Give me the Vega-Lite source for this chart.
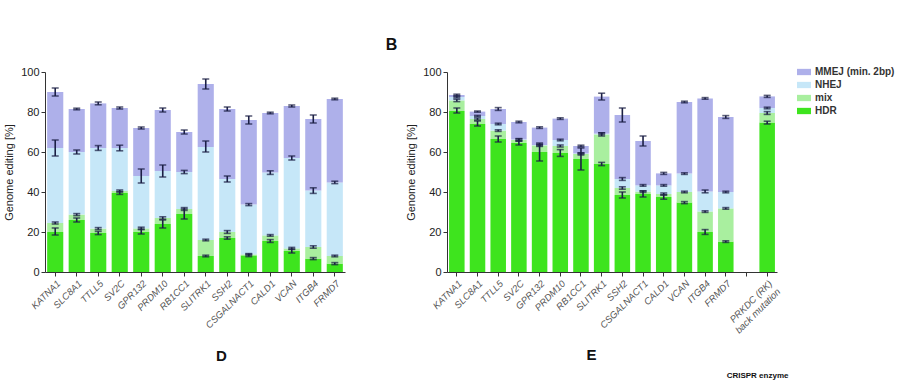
{
  "$schema": "https://vega.github.io/schema/vega-lite/v6.json",
  "background": "white",
  "padding": {"left": 3, "top": 37, "right": 0, "bottom": 0},
  "config": {
    "font": "Liberation Sans",
    "view": {"stroke": null},
    "axis": {"grid": false, "domainColor": "#333", "tickColor": "#333", "labelColor": "#222", "titleColor": "#222"},
    "axisY": {"values": [0,20,40,60,80,100], "labelOverlap": false, "labelFontSize": 11, "tickSize": 4, "titlePadding": 6, "titleFontSize": 11, "titleFontWeight": "normal"},
    "title": {"fontSize": 16, "fontWeight": "bold", "anchor": "start", "color": "#111", "offset": 13}
  },
  "title": {"text": "CRISPR enzyme", "orient": "bottom", "anchor": "start", "fontSize": 8, "fontWeight": "bold", "dx": 723, "offset": 8},
  "datasets": {
    "a": [
      {"g":"KATNA1","c":"HDR","b":0,"t":20,"lo":18.5,"hi":22},{"g":"KATNA1","c":"mix","b":20,"t":24.5,"lo":24,"hi":25},{"g":"KATNA1","c":"NHEJ","b":24.5,"t":62,"lo":58,"hi":66},{"g":"KATNA1","c":"MMEJ (min. 2bp)","b":62,"t":90,"lo":88,"hi":92},
      {"g":"SLC8A1","c":"HDR","b":0,"t":26,"lo":25,"hi":27},{"g":"SLC8A1","c":"mix","b":26,"t":28.7,"lo":28.2,"hi":29.2},{"g":"SLC8A1","c":"NHEJ","b":28.7,"t":60,"lo":59,"hi":61},{"g":"SLC8A1","c":"MMEJ (min. 2bp)","b":60,"t":81.5,"lo":81.1,"hi":81.9},
      {"g":"TTLL5","c":"HDR","b":0,"t":19.5,"lo":18.7,"hi":20.3},{"g":"TTLL5","c":"mix","b":19.5,"t":21.7,"lo":21.2,"hi":22.2},{"g":"TTLL5","c":"NHEJ","b":21.7,"t":62,"lo":60.8,"hi":63.2},{"g":"TTLL5","c":"MMEJ (min. 2bp)","b":62,"t":84.3,"lo":83.6,"hi":85},
      {"g":"SV2C","c":"HDR","b":0,"t":39.5,"lo":38.8,"hi":40.2},{"g":"SV2C","c":"mix","b":39.5,"t":40.5,"lo":40,"hi":41},{"g":"SV2C","c":"NHEJ","b":40.5,"t":62,"lo":60.6,"hi":63.4},{"g":"SV2C","c":"MMEJ (min. 2bp)","b":62,"t":82,"lo":81.5,"hi":82.5},
      {"g":"GPR132","c":"HDR","b":0,"t":20,"lo":19,"hi":21.5},{"g":"GPR132","c":"mix","b":20,"t":21.8,"lo":21.2,"hi":22.4},{"g":"GPR132","c":"NHEJ","b":21.8,"t":48,"lo":44.5,"hi":51.5},{"g":"GPR132","c":"MMEJ (min. 2bp)","b":48,"t":72,"lo":71.5,"hi":72.5},
      {"g":"PRDM10","c":"HDR","b":0,"t":24,"lo":22,"hi":26},{"g":"PRDM10","c":"mix","b":24,"t":27,"lo":26.4,"hi":27.6},{"g":"PRDM10","c":"NHEJ","b":27,"t":50.5,"lo":47.5,"hi":53.5},{"g":"PRDM10","c":"MMEJ (min. 2bp)","b":50.5,"t":81,"lo":80,"hi":82},
      {"g":"RB1CC1","c":"HDR","b":0,"t":29,"lo":26.5,"hi":31.5},{"g":"RB1CC1","c":"mix","b":29,"t":31.5,"lo":30.8,"hi":32.2},{"g":"RB1CC1","c":"NHEJ","b":31.5,"t":50,"lo":49.2,"hi":50.8},{"g":"RB1CC1","c":"MMEJ (min. 2bp)","b":50,"t":70,"lo":69,"hi":71},
      {"g":"SLITRK1","c":"HDR","b":0,"t":8,"lo":7.6,"hi":8.4},{"g":"SLITRK1","c":"mix","b":8,"t":16,"lo":15.6,"hi":16.4},{"g":"SLITRK1","c":"NHEJ","b":16,"t":62.5,"lo":60,"hi":65.5},{"g":"SLITRK1","c":"MMEJ (min. 2bp)","b":62.5,"t":94,"lo":91.5,"hi":96.5},
      {"g":"SSH2","c":"HDR","b":0,"t":17,"lo":16.4,"hi":17.6},{"g":"SSH2","c":"mix","b":17,"t":20,"lo":19.3,"hi":20.7},{"g":"SSH2","c":"NHEJ","b":20,"t":46.5,"lo":45,"hi":48},{"g":"SSH2","c":"MMEJ (min. 2bp)","b":46.5,"t":81.5,"lo":80.5,"hi":82.5},
      {"g":"CSGALNACT1","c":"HDR","b":0,"t":8.3,"lo":7.7,"hi":8.9},{"g":"CSGALNACT1","c":"mix","b":8.3,"t":8.8,"lo":8.4,"hi":9.2},{"g":"CSGALNACT1","c":"NHEJ","b":8.8,"t":33.7,"lo":33.2,"hi":34.2},{"g":"CSGALNACT1","c":"MMEJ (min. 2bp)","b":33.7,"t":76,"lo":74,"hi":78},
      {"g":"CALD1","c":"HDR","b":0,"t":15.5,"lo":14.8,"hi":16.2},{"g":"CALD1","c":"mix","b":15.5,"t":18.3,"lo":17.9,"hi":18.7},{"g":"CALD1","c":"NHEJ","b":18.3,"t":49.7,"lo":48.8,"hi":50.6},{"g":"CALD1","c":"MMEJ (min. 2bp)","b":49.7,"t":79.5,"lo":79.1,"hi":79.9},
      {"g":"VCAN","c":"HDR","b":0,"t":10.5,"lo":9.5,"hi":11.5},{"g":"VCAN","c":"mix","b":10.5,"t":11.8,"lo":11.3,"hi":12.3},{"g":"VCAN","c":"NHEJ","b":11.8,"t":57,"lo":56,"hi":58},{"g":"VCAN","c":"MMEJ (min. 2bp)","b":57,"t":83,"lo":82.5,"hi":83.5},
      {"g":"ITGB4","c":"HDR","b":0,"t":6.7,"lo":6.2,"hi":7.2},{"g":"ITGB4","c":"mix","b":6.7,"t":12.5,"lo":11.9,"hi":13.1},{"g":"ITGB4","c":"NHEJ","b":12.5,"t":40.7,"lo":39.3,"hi":42.1},{"g":"ITGB4","c":"MMEJ (min. 2bp)","b":40.7,"t":76.5,"lo":74.5,"hi":78.5},
      {"g":"FRMD7","c":"HDR","b":0,"t":4.2,"lo":3.7,"hi":4.7},{"g":"FRMD7","c":"mix","b":4.2,"t":8,"lo":7.6,"hi":8.4},{"g":"FRMD7","c":"NHEJ","b":8,"t":44.8,"lo":44.2,"hi":45.4},{"g":"FRMD7","c":"MMEJ (min. 2bp)","b":44.8,"t":86.5,"lo":86.1,"hi":86.9}
    ],
    "b": [
      {"g":"KATNA1","c":"HDR","b":0,"t":80.5,"lo":79.5,"hi":82},{"g":"KATNA1","c":"mix","b":80.5,"t":85.8,"lo":85.2,"hi":86.4},{"g":"KATNA1","c":"NHEJ","b":85.8,"t":87.5,"lo":87.1,"hi":87.9},{"g":"KATNA1","c":"MMEJ (min. 2bp)","b":87.5,"t":88.5,"lo":88.1,"hi":88.9},
      {"g":"SLC8A1","c":"HDR","b":0,"t":74,"lo":73,"hi":75.5},{"g":"SLC8A1","c":"mix","b":74,"t":76.5,"lo":76,"hi":77},{"g":"SLC8A1","c":"NHEJ","b":76.5,"t":78,"lo":77.7,"hi":78.3},{"g":"SLC8A1","c":"MMEJ (min. 2bp)","b":78,"t":80.2,"lo":79.9,"hi":80.5},
      {"g":"TTLL5","c":"HDR","b":0,"t":66.5,"lo":65,"hi":68},{"g":"TTLL5","c":"mix","b":66.5,"t":70.7,"lo":70.3,"hi":71.1},{"g":"TTLL5","c":"NHEJ","b":70.7,"t":74,"lo":73.6,"hi":74.4},{"g":"TTLL5","c":"MMEJ (min. 2bp)","b":74,"t":81.5,"lo":80.8,"hi":82.2},
      {"g":"SV2C","c":"HDR","b":0,"t":64.5,"lo":63.5,"hi":65.5},{"g":"SV2C","c":"mix","b":64.5,"t":66,"lo":65.4,"hi":66.6},{"g":"SV2C","c":"NHEJ","b":66,"t":66.3,"lo":65.9,"hi":66.7},{"g":"SV2C","c":"MMEJ (min. 2bp)","b":66.3,"t":75,"lo":74.6,"hi":75.4},
      {"g":"GPR132","c":"HDR","b":0,"t":60,"lo":55.5,"hi":64.5},{"g":"GPR132","c":"mix","b":60,"t":63.3,"lo":62.8,"hi":63.8},{"g":"GPR132","c":"NHEJ","b":63.3,"t":63.5,"lo":63.2,"hi":63.8},{"g":"GPR132","c":"MMEJ (min. 2bp)","b":63.5,"t":72.2,"lo":71.8,"hi":72.6},
      {"g":"PRDM10","c":"HDR","b":0,"t":59.5,"lo":57.8,"hi":61.2},{"g":"PRDM10","c":"mix","b":59.5,"t":63,"lo":62.5,"hi":63.5},{"g":"PRDM10","c":"NHEJ","b":63,"t":66,"lo":65.6,"hi":66.4},{"g":"PRDM10","c":"MMEJ (min. 2bp)","b":66,"t":76.7,"lo":76.3,"hi":77.1},
      {"g":"RB1CC1","c":"HDR","b":0,"t":56.5,"lo":51,"hi":62},{"g":"RB1CC1","c":"mix","b":56.5,"t":59,"lo":58.5,"hi":59.5},{"g":"RB1CC1","c":"NHEJ","b":59,"t":59.3,"lo":59,"hi":59.6},{"g":"RB1CC1","c":"MMEJ (min. 2bp)","b":59.3,"t":63,"lo":62.6,"hi":63.4},
      {"g":"SLITRK1","c":"HDR","b":0,"t":54,"lo":53.2,"hi":54.8},{"g":"SLITRK1","c":"mix","b":54,"t":68.8,"lo":68,"hi":69.6},{"g":"SLITRK1","c":"NHEJ","b":68.8,"t":69.2,"lo":68.8,"hi":69.6},{"g":"SLITRK1","c":"MMEJ (min. 2bp)","b":69.2,"t":87.7,"lo":86,"hi":89.4},
      {"g":"SSH2","c":"HDR","b":0,"t":38.5,"lo":37,"hi":40},{"g":"SSH2","c":"mix","b":38.5,"t":42,"lo":41.4,"hi":42.6},{"g":"SSH2","c":"NHEJ","b":42,"t":46.5,"lo":45.8,"hi":47.2},{"g":"SSH2","c":"MMEJ (min. 2bp)","b":46.5,"t":78.5,"lo":75,"hi":82},
      {"g":"CSGALNACT1","c":"HDR","b":0,"t":39,"lo":37.5,"hi":40.5},{"g":"CSGALNACT1","c":"mix","b":39,"t":40.2,"lo":39.8,"hi":40.6},{"g":"CSGALNACT1","c":"NHEJ","b":40.2,"t":43.3,"lo":42.9,"hi":43.7},{"g":"CSGALNACT1","c":"MMEJ (min. 2bp)","b":43.3,"t":65.5,"lo":63,"hi":68},
      {"g":"CALD1","c":"HDR","b":0,"t":37.5,"lo":36.4,"hi":38.6},{"g":"CALD1","c":"mix","b":37.5,"t":39,"lo":38.5,"hi":39.5},{"g":"CALD1","c":"NHEJ","b":39,"t":43.3,"lo":42.9,"hi":43.7},{"g":"CALD1","c":"MMEJ (min. 2bp)","b":43.3,"t":49.3,"lo":48.8,"hi":49.8},
      {"g":"VCAN","c":"HDR","b":0,"t":34.7,"lo":34.2,"hi":35.2},{"g":"VCAN","c":"mix","b":34.7,"t":40,"lo":39.6,"hi":40.4},{"g":"VCAN","c":"NHEJ","b":40,"t":49.2,"lo":48.8,"hi":49.6},{"g":"VCAN","c":"MMEJ (min. 2bp)","b":49.2,"t":85,"lo":84.6,"hi":85.4},
      {"g":"ITGB4","c":"HDR","b":0,"t":20,"lo":18.8,"hi":21.2},{"g":"ITGB4","c":"mix","b":20,"t":30.2,"lo":29.8,"hi":30.6},{"g":"ITGB4","c":"NHEJ","b":30.2,"t":40.3,"lo":39.6,"hi":41},{"g":"ITGB4","c":"MMEJ (min. 2bp)","b":40.3,"t":86.8,"lo":86.4,"hi":87.2},
      {"g":"FRMD7","c":"HDR","b":0,"t":15.2,"lo":14.8,"hi":15.6},{"g":"FRMD7","c":"mix","b":15.2,"t":31.8,"lo":31.4,"hi":32.2},{"g":"FRMD7","c":"NHEJ","b":31.8,"t":40,"lo":39.6,"hi":40.4},{"g":"FRMD7","c":"MMEJ (min. 2bp)","b":40,"t":77.5,"lo":76.8,"hi":78.2},
      {"g":"PRKDC (RK)","c":"HDR","b":0,"t":74.7,"lo":74,"hi":75.4},{"g":"PRKDC (RK)","c":"mix","b":74.7,"t":79.5,"lo":78.8,"hi":80.2},{"g":"PRKDC (RK)","c":"NHEJ","b":79.5,"t":82,"lo":81.6,"hi":82.4},{"g":"PRKDC (RK)","c":"MMEJ (min. 2bp)","b":82,"t":87.8,"lo":87.3,"hi":88.3}
    ]
  },
  "spacing": 40,
  "resolve": {"scale": {"color": "shared"}},
  "hconcat": [
    {
      "width": 300,
      "height": 200,
      "title": {"text": " "},
      "data": {"name": "a"},
      "encoding": {
        "x": {"field": "g", "type": "nominal", "sort": null,
              "scale": {"domain": ["KATNA1","SLC8A1","TTLL5","SV2C","GPR132","PRDM10","RB1CC1","SLITRK1","SSH2","CSGALNACT1","CALD1","VCAN","ITGB4","FRMD7"], "paddingInner": 0.25, "paddingOuter": 0.1},
              "axis": {"title": "D", "titleFontSize": 15, "titleFontWeight": "bold", "titleColor": "#111", "titlePadding": 19, "titleX": 176, "labelAngle": -45, "labelFontStyle": "italic", "labelFontSize": 9.5, "labelColor": "#555", "tickSize": 4}}
      },
      "layer": [
        {
          "mark": {"type": "bar"},
          "encoding": {
            "y": {"field": "t", "type": "quantitative", "stack": null,
                  "scale": {"domain": [0, 100], "nice": false},
                  "axis": {"title": "Genome editing [%]", "values": [0,20,40,60,80,100], "labelOverlap": false}},
            "y2": {"field": "b"},
            "color": {"field": "c", "type": "nominal",
                      "scale": {"domain": ["MMEJ (min. 2bp)", "NHEJ", "mix", "HDR"], "range": ["#aeb0ea", "#c6e7f8", "#a9ef9f", "#3ee41e"]},
                      "legend": {"title": null, "orient": "none", "legendX": 752, "legendY": -7, "symbolType": "M-1,-0.45H1V0.45H-1Z", "symbolSize": 196, "symbolStrokeWidth": 0, "labelFontSize": 10, "labelFontWeight": "bold", "labelColor": "#333", "rowPadding": 1}}
          }
        },
        {
          "mark": {"type": "errorbar", "ticks": {"size": 7}, "color": "#1b1f45", "thickness": 1.6},
          "encoding": {
            "y": {"field": "lo", "type": "quantitative", "title": "Genome editing [%]", "axis": {"values": [0,20,40,60,80,100], "labelOverlap": false}},
            "y2": {"field": "hi"}
          }
        }
      ]
    },
    {
      "width": 330,
      "height": 200,
      "title": {"text": "B", "dx": -20},
      "data": {"name": "b"},
      "encoding": {
        "x": {"field": "g", "type": "nominal", "sort": null,
              "scale": {"domain": ["KATNA1","SLC8A1","TTLL5","SV2C","GPR132","PRDM10","RB1CC1","SLITRK1","SSH2","CSGALNACT1","CALD1","VCAN","ITGB4","FRMD7","_gap","PRKDC (RK)"], "paddingInner": 0.25, "paddingOuter": 0.1},
              "axis": {"title": "E", "titleFontSize": 15, "titleFontWeight": "bold", "titleColor": "#111", "titlePadding": 13, "titleX": 144, "labelAngle": -45, "labelFontStyle": "italic", "labelFontSize": 9.5, "labelColor": "#555", "tickSize": 4,
                       "labelExpr": "datum.value == '_gap' ? '' : datum.value == 'PRKDC (RK)' ? ['PRKDC (RK)', 'back mutation'] : datum.value"}}
      },
      "layer": [
        {
          "mark": {"type": "bar"},
          "encoding": {
            "y": {"field": "t", "type": "quantitative", "stack": null,
                  "scale": {"domain": [0, 100], "nice": false},
                  "axis": {"title": "Genome editing [%]", "values": [0,20,40,60,80,100], "labelOverlap": false}},
            "y2": {"field": "b"},
            "color": {"field": "c", "type": "nominal"}
          }
        },
        {
          "mark": {"type": "errorbar", "ticks": {"size": 7}, "color": "#1b1f45", "thickness": 1.6},
          "encoding": {
            "y": {"field": "lo", "type": "quantitative", "title": "Genome editing [%]", "axis": {"values": [0,20,40,60,80,100], "labelOverlap": false}},
            "y2": {"field": "hi"}
          }
        }
      ]
    }
  ]
}
